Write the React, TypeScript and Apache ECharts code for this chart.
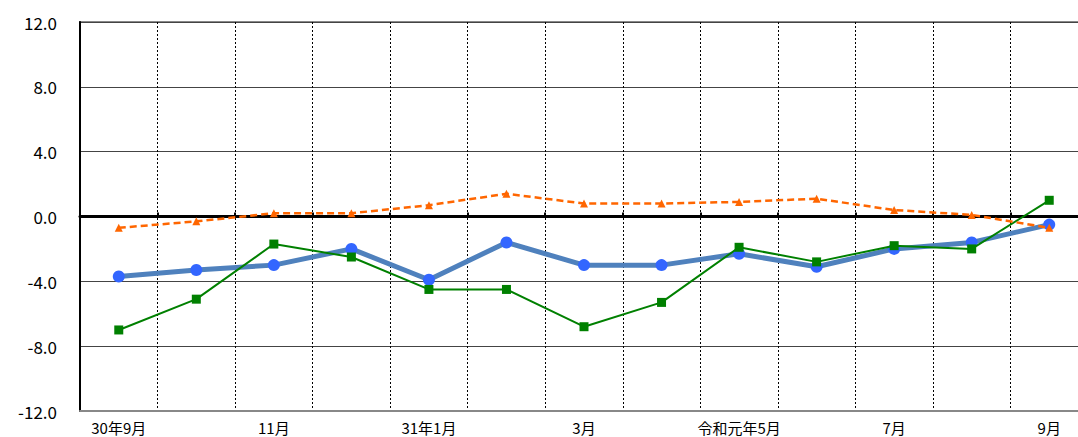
import React, { useEffect, useRef } from "react";
import * as echarts from "echarts";

const categories = [
  "30年9月", "10月", "11月", "12月", "31年1月", "2月", "3月",
  "4月", "令和元年5月", "6月", "7月", "8月", "9月",
];
const blueSeries = [-3.7, -3.3, -3.0, -2.0, -3.9, -1.6, -3.0, -3.0, -2.3, -3.1, -2.0, -1.6, -0.5];
const greenSeries = [-7.0, -5.1, -1.7, -2.5, -4.5, -4.5, -6.8, -5.3, -1.9, -2.8, -1.8, -2.0, 1.0];
const orangeSeries = [-0.7, -0.3, 0.2, 0.2, 0.7, 1.4, 0.8, 0.8, 0.9, 1.1, 0.4, 0.1, -0.7];
const yTicks = { min: -12, max: 12, interval: 4 };

export default function App() {
  const ref = useRef<HTMLDivElement>(null);
  useEffect(() => {
    document.body.style.margin = "0";
    document.body.style.overflow = "hidden";
    const chart = echarts.init(ref.current!, null, { renderer: "svg" });
    const font = "'Noto Sans CJK JP', 'Noto Sans', sans-serif";
    chart.setOption({
      animation: false,
      grid: {
        left: 80, top: 22, bottom: 26, right: 0,
        show: true, borderColor: "#888", borderWidth: 2,
      },
      xAxis: [
        {
          type: "category",
          data: categories,
          boundaryGap: true,
          position: "bottom",
          axisLine: { onZero: false, lineStyle: { color: "#888", width: 2 } },
          axisTick: { show: false },
          axisLabel: {
            interval: 1, color: "#000", fontSize: 15, margin: 8, lineHeight: 16, fontFamily: font,
          },
          splitLine: {
            show: true, interval: 0,
            lineStyle: { color: "#000", width: 1, type: [2, 2] },
          },
        },
        {
          type: "category",
          data: categories,
          boundaryGap: true,
          position: "bottom",
          axisLine: { onZero: true, lineStyle: { color: "#000", width: 3 } },
          axisTick: { show: true, interval: 0, inside: true, length: 4, lineStyle: { color: "#000", width: 2 } },
          axisLabel: { show: false },
          splitLine: { show: false },
        },
      ],
      yAxis: {
        type: "value",
        min: yTicks.min, max: yTicks.max, interval: yTicks.interval,
        axisLine: { show: true, lineStyle: { color: "#000", width: 2 } },
        axisTick: { show: false },
        axisLabel: {
          color: "#000", fontSize: 17, margin: 23, fontFamily: font,
          formatter: (v: number) => v.toFixed(1),
        },
        splitLine: { show: true, lineStyle: { color: "#444", width: 1 } },
      },
      series: [
        {
          type: "line", data: blueSeries, xAxisIndex: 0,
          lineStyle: { color: "#4F81BD", width: 5 },
          itemStyle: { color: "#3366FF" },
          symbol: "circle", symbolSize: 12, z: 3,
        },
        {
          type: "line", data: greenSeries, xAxisIndex: 0,
          lineStyle: { color: "#008000", width: 2 },
          itemStyle: { color: "#008000" },
          symbol: "rect", symbolSize: 9, z: 4,
        },
        {
          type: "line", data: orangeSeries, xAxisIndex: 0,
          lineStyle: { color: "#FF6600", width: 2.5, type: [7, 4] },
          itemStyle: { color: "#FF6600" },
          symbol: "triangle", symbolSize: 8, z: 5,
        },
      ],
    });
    return () => chart.dispose();
  }, []);
  return <div ref={ref} style={{ width: 1088, height: 437 }} />;
}
